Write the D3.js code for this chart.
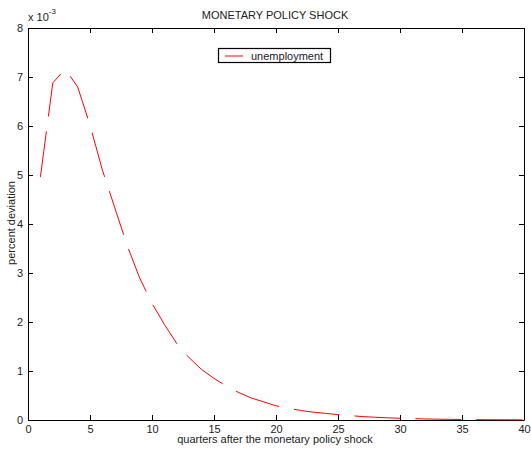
<!DOCTYPE html>
<html>
<head>
<meta charset="utf-8">
<script src="https://cdn.jsdelivr.net/npm/d3@7"></script>
<style>
body { margin: 0; background: #fff; }
svg text { font-family: "Liberation Sans", Arial, sans-serif; fill: #222; }
</style>
</head>
<body>
<svg id="chart" width="531" height="450"></svg>
<script>
const quarters = d3.range(1, 41);
const unemployment = [4.96, 6.88, 7.16, 6.80, 6.02, 5.10, 4.33, 3.56, 2.90, 2.38,
  1.95, 1.56, 1.27, 1.03, 0.85, 0.69, 0.56, 0.45, 0.37, 0.29,
  0.24, 0.195, 0.16, 0.135, 0.11, 0.088, 0.07, 0.056, 0.045, 0.035,
  0.028, 0.022, 0.017, 0.013, 0.010, 0.008, 0.006, 0.005, 0.004, 0.003];
const xTicks = [0, 5, 10, 15, 20, 25, 30, 35, 40];
const yTicks = [0, 1, 2, 3, 4, 5, 6, 7, 8];
const seriesName = "unemployment";
const titleText = "MONETARY POLICY SHOCK";
const xLabel = "quarters after the monetary policy shock";
const yLabel = "percent deviation";

const svg = d3.select("#chart");
const L = 28, R = 524, T = 28, B = 420;
const x = d3.scaleLinear().domain([0, 40]).range([L, R]);
const y = d3.scaleLinear().domain([0, 8]).range([B, T]);

const g = svg.append("g");
const fs = 11;
g.append("g").attr("transform", `translate(0,${B})`)
  .call(d3.axisBottom(x).tickValues(xTicks).tickSizeInner(-5).tickSizeOuter(0).tickPadding(5))
  .call(a => { a.select(".domain").attr("stroke", "#000"); a.selectAll("line").attr("stroke", "#000");
    a.selectAll("text").attr("font-size", fs).attr("fill", "#222"); });
g.append("g").attr("transform", `translate(0,${T})`)
  .call(d3.axisTop(x).tickValues(xTicks).tickSizeInner(-5).tickSizeOuter(0).tickFormat(""))
  .call(a => { a.select(".domain").attr("stroke", "#000"); a.selectAll("line").attr("stroke", "#000"); });
g.append("g").attr("transform", `translate(${L},0)`)
  .call(d3.axisLeft(y).tickValues(yTicks).tickSizeInner(-5).tickSizeOuter(0).tickPadding(5))
  .call(a => { a.select(".domain").attr("stroke", "#000"); a.selectAll("line").attr("stroke", "#000");
    a.selectAll("text").attr("font-size", fs).attr("fill", "#222"); });
g.append("g").attr("transform", `translate(${R},0)`)
  .call(d3.axisRight(y).tickValues(yTicks).tickSizeInner(-5).tickSizeOuter(0).tickFormat(""))
  .call(a => { a.select(".domain").attr("stroke", "#000"); a.selectAll("line").attr("stroke", "#000"); });

const ex = svg.append("text").attr("x", L).attr("y", 21).attr("font-size", fs);
ex.append("tspan").text("x 10");
ex.append("tspan").attr("font-size", 8).attr("dy", -7).text("-3");

const line = d3.line().x((d, i) => x(quarters[i])).y(d => y(d));
svg.append("path").datum(unemployment)
  .attr("d", line).attr("fill", "none").attr("stroke", "#ff0000")
  .attr("stroke-width", 1).attr("stroke-dasharray", "46,15");

svg.append("text").attr("x", 275).attr("y", 19).attr("text-anchor", "middle")
  .attr("font-size", fs).text(titleText);
svg.append("text").attr("x", 275).attr("y", 443).attr("text-anchor", "middle")
  .attr("font-size", fs).text(xLabel);
svg.append("text").attr("transform", "translate(15,223) rotate(-90)").attr("text-anchor", "middle")
  .attr("font-size", fs).text(yLabel);

const lg = svg.append("g");
lg.append("rect").attr("x", 218.5).attr("y", 48.5).attr("width", 112).attr("height", 14)
  .attr("fill", "#fff").attr("stroke", "#000").attr("stroke-width", 1.2);
lg.append("line").attr("x1", 225).attr("x2", 243).attr("y1", 56).attr("y2", 56)
  .attr("stroke", "#ff0000").attr("stroke-width", 1);
lg.append("text").attr("x", 251).attr("y", 60).attr("font-size", fs).text(seriesName);
</script>
</body>
</html>
